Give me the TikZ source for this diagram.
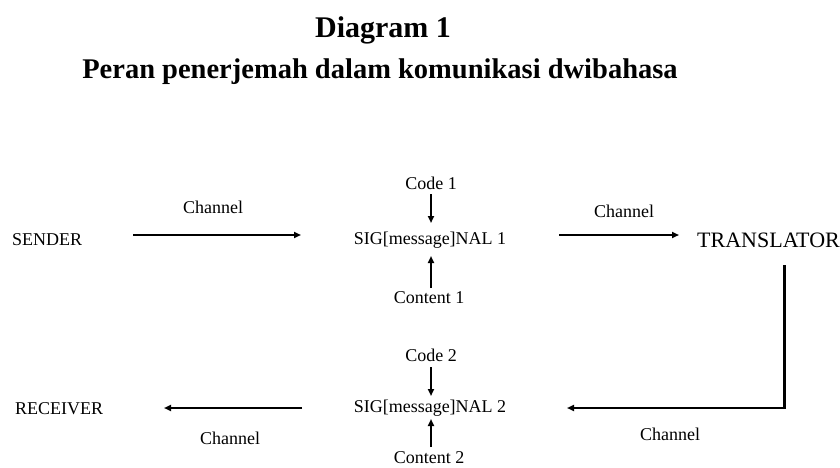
\documentclass[tikz,border=0pt]{standalone}
\usepackage{fontspec}
\setmainfont{Liberation Serif}
\usetikzlibrary{arrows.meta}
\begin{document}
\begin{tikzpicture}[x=1pt,y=-1pt,
  lbl/.style={inner sep=0pt, font=\fontsize{18}{20}\selectfont},
  big/.style={inner sep=0pt, font=\fontsize{22}{24}\selectfont},
  ttl/.style={inner sep=0pt, font=\bfseries\fontsize{28.5}{32}\selectfont},
  arr/.style={line width=2.2pt, -{Triangle[length=7pt,width=6pt]}},
  ln/.style={line width=3pt}]
\useasboundingbox (0,0) rectangle (840,468);
\node[ttl, font=\bfseries\fontsize{30}{32}\selectfont] (t1) at (383,30) {Diagram 1};
\node[ttl] (t2) at (380,72) {Peran penerjemah dalam komunikasi dwibahasa};

\node[lbl, anchor=west] (sender) at (12,240) {SENDER};
\node[lbl] (ch1) at (213,207) {Channel};
\node[lbl] (code1) at (431,183) {Code 1};
\node[lbl] (sig1) at (430,240) {SIG[message]NAL 1};
\node[lbl] (cont1) at (429,298) {Content 1};
\node[lbl] (ch2) at (624,211) {Channel};
\node[big, anchor=west] (tr) at (697,240) {TRANSLATOR};

\node[lbl] (code2) at (431,355) {Code 2};
\node[lbl] (sig2) at (430,408) {SIG[message]NAL 2};
\node[lbl] (cont2) at (429,458) {Content 2};
\node[lbl, anchor=west] (rec) at (15,409) {RECEIVER};
\node[lbl] (ch3) at (230,438) {Channel};
\node[lbl] (ch4) at (670,434) {Channel};

\coordinate (a1s) at (133,235);
\coordinate (a1e) at (301,235);
\coordinate (a2s) at (559,235);
\coordinate (a2e) at (679,235);
\coordinate (c1s) at (431,194);
\coordinate (c1e) at (431,223);
\coordinate (n1s) at (431,288);
\coordinate (n1e) at (431,256);
\coordinate (c2s) at (431,367);
\coordinate (c2e) at (431,396);
\coordinate (n2s) at (431,447);
\coordinate (n2e) at (431,419);
\coordinate (tv) at (784,265);
\coordinate (corner) at (784,408);
\coordinate (b1e) at (567,408);
\coordinate (b2s) at (302,408);
\coordinate (b2e) at (164,408);

\draw[arr] (a1s) -- (a1e);
\draw[arr] (a2s) -- (a2e);
\draw[arr] (c1s) -- (c1e);
\draw[arr] (n1s) -- (n1e);
\draw[arr] (c2s) -- (c2e);
\draw[arr] (n2s) -- (n2e);
\draw[ln] (tv) -- (corner);
\draw[arr] ([xshift=1.5pt]corner) -- (b1e);
\draw[arr] (b2s) -- (b2e);
\end{tikzpicture}
\end{document}
